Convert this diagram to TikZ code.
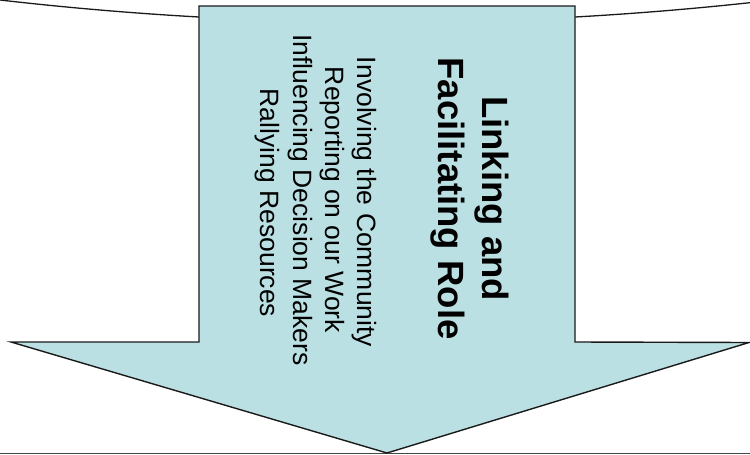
\documentclass[tikz,border=0pt]{standalone}
\usepackage{fontspec}
\setmainfont{Liberation Sans}
\definecolor{arrowfill}{HTML}{BBE0E3}
\definecolor{edge}{HTML}{1A1A1A}
\begin{document}
\begin{tikzpicture}[x=1pt,y=-1pt,
  outline/.style={draw=edge,line width=1.4pt,line join=miter},
  titletext/.style={rotate=-90,anchor=base,inner sep=0pt,font=\bfseries\fontsize{36.5}{44}\selectfont},
  bodytext/.style={rotate=-90,anchor=base,inner sep=0pt,font=\fontsize{26.5}{32}\selectfont}]
\useasboundingbox (0,0) rectangle (750,455);
\begin{scope}
\clip (0,0) rectangle (750,455);
% background arc
\draw[draw=edge,line width=1.3pt] (0,0) .. controls (258,29.67) and (516,29.67) .. (774,0);
% bottom line
\draw[draw=edge!80,line width=1.3pt] (0,453.5) -- (750,453.5);
\end{scope}
% block arrow
\coordinate (s1) at (199,6);
\coordinate (s2) at (575,6);
\coordinate (s3) at (575,342);
\coordinate (h1) at (749,342.5);
\coordinate (apex) at (387,453);
\coordinate (h2) at (11,342);
\coordinate (s4) at (199,342);
\filldraw[outline,fill=arrowfill] (s1) -- (s2) -- (s3) -- (h1) -- (apex) -- (h2) -- (s4) -- cycle;
% texts
\node[titletext] (t1) at (482,198.5) {Linking and};
\node[titletext] (t2) at (438,198.5) {Facilitating Role};
\node[bodytext] (b1) at (357,202) {Involving the Community};
\node[bodytext] (b2) at (325.5,200) {Reporting on our Work};
\node[bodytext] (b3) at (293,200) {Influencing Decision Makers};
\node[bodytext] (b4) at (260,203) {Rallying Resources};
\end{tikzpicture}
\end{document}
